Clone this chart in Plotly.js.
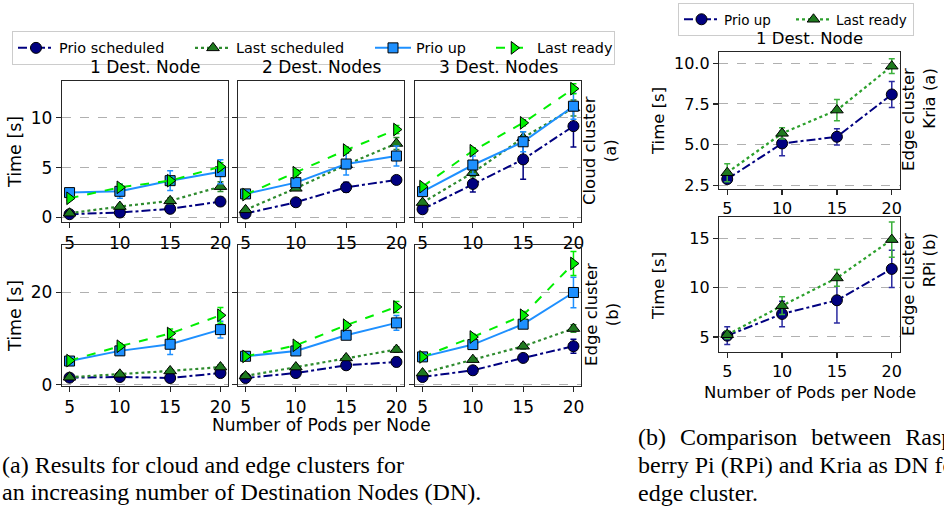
<!DOCTYPE html>
<html>
<head>
<meta charset="utf-8">
<script src="https://cdn.plot.ly/plotly-3.0.1.min.js"></script>
<style>html,body{margin:0;padding:0;background:#fff;}#chart{width:944px;height:508px;}</style>
</head>
<body>
<div id="chart"></div>
<script>
// ---------- data ----------
const pods = [5, 10, 15, 20];
const destNodeTitles = ['1 Dest. Node', '2 Dest. Nodes', '3 Dest. Nodes'];
const seriesNames = ['Prio scheduled', 'Last scheduled', 'Prio up', 'Last ready'];

// Cloud cluster (a): one row per number of destination nodes (1, 2, 3)
const cloudPrioScheduled = [[0.33, 0.5, 0.87, 1.6], [0.4, 1.53, 3.03, 3.77], [0.83, 3.37, 5.83, 9.17]];
const cloudLastScheduled = [[0.43, 1.1, 1.67, 3.1], [0.77, 2.93, 5.3, 7.43], [1.5, 4.5, 8.0, 11.0]];
const cloudPrioUp        = [[2.5, 2.63, 3.7, 4.6], [2.37, 3.5, 5.37, 6.17], [2.6, 5.27, 7.6, 11.17]];
const cloudLastReady     = [[1.93, 3.03, 3.7, 5.1], [2.3, 4.5, 6.77, 8.83], [3.1, 6.7, 9.5, 12.93]];
const cloudPrioScheduledErr = [[0.1, 0.15, 0.2, 0.4], [0.1, 0.2, 0.5, 0.3], [0.2, 0.8, 2.0, 2.1]];
const cloudLastScheduledErr = [[0.1, 0.2, 0.3, 0.5], [0.1, 0.2, 0.4, 0.6], [0.2, 0.4, 0.6, 0.8]];
const cloudPrioUpErr        = [[0.2, 0.7, 1.0, 1.2], [0.2, 0.5, 1.1, 1.0], [0.3, 0.9, 1.0, 1.3]];
const cloudLastReadyErr     = [[0.2, 0.3, 0.3, 0.4], [0.2, 0.3, 0.3, 0.4], [0.2, 0.3, 0.3, 0.5]];

// Edge cluster (b)
const edgePrioScheduled = [[1.5, 1.65, 1.43, 2.5], [1.43, 2.5, 4.18, 4.9], [1.65, 3.1, 5.77, 8.3]];
const edgeLastScheduled = [[1.6, 2.23, 2.95, 3.8], [1.87, 3.8, 5.77, 7.58], [2.5, 5.4, 8.3, 12.13]];
const edgePrioUp        = [[5.1, 7.3, 8.73, 11.9], [6.13, 7.28, 10.68, 13.35], [6.0, 8.66, 13.07, 19.93]];
const edgeLastReady     = [[5.2, 8.3, 11.05, 15.0], [6.1, 8.5, 12.85, 16.8], [6.0, 10.3, 15.0, 26.2]];
const edgePrioScheduledErr = [[0.2, 0.3, 0.4, 0.5], [0.2, 0.4, 0.5, 1.0], [0.2, 0.4, 0.6, 1.5]];
const edgeLastScheduledErr = [[0.2, 0.3, 0.4, 0.5], [0.2, 0.4, 0.5, 0.6], [0.2, 0.4, 0.6, 0.8]];
const edgePrioUpErr        = [[0.4, 0.9, 2.2, 1.8], [0.3, 0.6, 0.8, 1.6], [0.3, 0.6, 0.8, 3.3]];
const edgeLastReadyErr     = [[0.3, 0.6, 1.0, 1.7], [0.3, 0.6, 0.6, 1.2], [0.3, 0.6, 0.8, 2.6]];

// Right figure: Kria vs RPi, 1 destination node
const kriaPrioUp = [2.88, 5.07, 5.48, 8.08];
const kriaLastReady = [3.27, 5.69, 7.12, 9.82];
const kriaPrioUpErr = [0.2, 0.75, 0.5, 0.8];
const kriaLastReadyErr = [0.55, 0.35, 0.65, 0.45];
const rpiPrioUp = [5.13, 7.34, 8.73, 11.92];
const rpiLastReady = [5.23, 8.18, 11.0, 14.9];
const rpiPrioUpErr = [0.9, 1.3, 2.3, 1.9];
const rpiLastReadyErr = [0.4, 0.9, 0.85, 1.8];

// ---------- styles ----------
const W = 944, H = 508;
const px = v => v / W;
const py = v => 1 - v / H;
const FONT = 'DejaVu Sans';

const styles = {
  'Prio scheduled': {line: {color: '#000080', dash: 'dashdot', width: 2}, marker: {symbol: 'circle', size: 11, color: '#000080', line: {color: '#000000', width: 1}}, err: '#000080', lw: 126},
  'Last scheduled': {line: {color: '#2e8b2e', dash: 'dot', width: 2.2}, marker: {symbol: 'triangle-up', size: 11, color: '#1f7a1f', line: {color: '#000000', width: 1}}, err: '#2e8b2e', lw: 129},
  'Prio up':        {line: {color: '#1e90ff', dash: 'solid', width: 2}, marker: {symbol: 'square', size: 10, color: '#1e90ff', line: {color: '#000000', width: 1}}, err: '#1e90ff', lw: 70},
  'Last ready':     {line: {color: '#00ee00', dash: 'dash', width: 2}, marker: {symbol: 'triangle-right', size: 11, color: '#00ee00', line: {color: '#000000', width: 1}}, err: '#00ee00', lw: 72}
};

const traces = [];
function addTrace(name, y, err, axN, showLegend, legendId, style) {
  traces.push({
    type: 'scatter', mode: 'lines+markers', name: name,
    x: pods, y: y,
    xaxis: 'x' + (axN === 1 ? '' : axN), yaxis: 'y' + (axN === 1 ? '' : axN),
    line: style.line, marker: style.marker,
    error_y: {type: 'data', array: err, visible: true, color: style.err, thickness: 1.5, width: 3},
    showlegend: showLegend, legend: legendId, legendwidth: style.lw,
    hoverinfo: 'x+y+name'
  });
}

const cloudData = [cloudPrioScheduled, cloudLastScheduled, cloudPrioUp, cloudLastReady];
const cloudErr = [cloudPrioScheduledErr, cloudLastScheduledErr, cloudPrioUpErr, cloudLastReadyErr];
const edgeData = [edgePrioScheduled, edgeLastScheduled, edgePrioUp, edgeLastReady];
const edgeErr = [edgePrioScheduledErr, edgeLastScheduledErr, edgePrioUpErr, edgeLastReadyErr];

for (let c = 0; c < 3; c++) {
  seriesNames.forEach((s, i) => {
    addTrace(s, cloudData[i][c], cloudErr[i][c], 1 + c, c === 0, 'legend', styles[s]);
    addTrace(s, edgeData[i][c], edgeErr[i][c], 4 + c, false, 'legend', styles[s]);
  });
}
// right figure
const rPU = {line: {color: '#000080', dash: 'dashdot', width: 2}, marker: {symbol: 'circle', size: 11, color: '#000080', line: {color: '#000000', width: 1}}, err: '#2a2aa0', lw: 62};
const rLR = {line: {color: '#2ca02c', dash: 'dot', width: 2.2}, marker: {symbol: 'triangle-up', size: 11, color: '#1f7a1f', line: {color: '#000000', width: 1}}, err: '#3cb03c', lw: 72};
addTrace('Prio up', kriaPrioUp, kriaPrioUpErr, 7, true, 'legend2', rPU);
addTrace('Last ready', kriaLastReady, kriaLastReadyErr, 7, true, 'legend2', rLR);
addTrace('Prio up', rpiPrioUp, rpiPrioUpErr, 8, false, 'legend2', rPU);
addTrace('Last ready', rpiLastReady, rpiLastReadyErr, 8, false, 'legend2', rLR);

// ---------- layout ----------
const axLine = {showline: true, mirror: true, linecolor: '#262626', linewidth: 1.2, ticks: 'outside', ticklen: 5, tickwidth: 1.2, tickcolor: '#262626', zeroline: false};
const colX = [[62, 228], [238, 404], [415, 581]];
const rowY = [[81, 222], [245, 386]];

const layout = {
  width: W, height: H, margin: {l: 0, r: 0, t: 0, b: 0},
  paper_bgcolor: '#ffffff', plot_bgcolor: '#ffffff',
  font: {family: FONT, color: '#000000'},
  showlegend: true,
  legend: {orientation: 'h', x: px(12), y: py(31), xanchor: 'left', yanchor: 'top', bgcolor: '#ffffff', bordercolor: '#cccccc', borderwidth: 1, font: {family: FONT, size: 14.4}, itemwidth: 36, tracegroupgap: 0},
  legend2: {orientation: 'h', x: px(678), y: py(3), xanchor: 'left', yanchor: 'top', bgcolor: '#ffffff', bordercolor: '#cccccc', borderwidth: 1, font: {family: FONT, size: 13.5}, itemwidth: 35, tracegroupgap: 0},
  annotations: []
};

const yTickSets = [[0, 5, 10], [0, 20]];
const yRanges = [[-0.45, 13.7], [-0.3, 30.2]];
for (let r = 0; r < 2; r++) {
  for (let c = 0; c < 3; c++) {
    const n = 1 + r * 3 + c;
    const suf = n === 1 ? '' : n;
    layout['xaxis' + suf] = Object.assign({}, axLine, {
      domain: [px(colX[c][0]), px(colX[c][1])], anchor: 'y' + suf,
      range: [4.25, 20.75], tickvals: pods, showgrid: false,
      tickfont: {family: FONT, size: 17, color: '#000'}
    });
    layout['yaxis' + suf] = Object.assign({}, axLine, {
      domain: [py(rowY[r][1]), py(rowY[r][0])], anchor: 'x' + suf,
      range: yRanges[r], tickvals: yTickSets[r], showticklabels: c === 0,
      showgrid: true, gridcolor: '#b0b0b0', griddash: 'dash', gridwidth: 1,
      tickfont: {family: FONT, size: 17, color: '#000'}
    });
  }
}
// right figure axes
layout.xaxis7 = Object.assign({}, axLine, {domain: [px(719), px(900)], anchor: 'y7', range: [4.25, 20.75], tickvals: pods, showgrid: false, tickfont: {family: FONT, size: 16, color: '#000'}});
layout.yaxis7 = Object.assign({}, axLine, {domain: [py(189), py(52)], anchor: 'x7', range: [2.27, 10.69], tickvals: [2.5, 5, 7.5, 10], ticktext: ['2.5', '5.0', '7.5', '10.0'], showgrid: true, gridcolor: '#b0b0b0', griddash: 'dash', gridwidth: 1, tickfont: {family: FONT, size: 16, color: '#000'}});
layout.xaxis8 = Object.assign({}, axLine, {domain: [px(719), px(900)], anchor: 'y8', range: [4.25, 20.75], tickvals: pods, showgrid: false, tickfont: {family: FONT, size: 16, color: '#000'}});
layout.yaxis8 = Object.assign({}, axLine, {domain: [py(352), py(217)], anchor: 'x8', range: [3.47, 17.2], tickvals: [5, 10, 15], showgrid: true, gridcolor: '#b0b0b0', griddash: 'dash', gridwidth: 1, tickfont: {family: FONT, size: 16, color: '#000'}});

function ann(text, x, y, opts) {
  layout.annotations.push(Object.assign({text: text, x: px(x), y: py(y), xref: 'paper', yref: 'paper', showarrow: false, xanchor: 'center', yanchor: 'middle', font: {family: FONT, size: 17, color: '#000'}}, opts || {}));
}
// panel titles
destNodeTitles.forEach((t, c) => ann(t, (colX[c][0] + colX[c][1]) / 2, 67));
ann('1 Dest. Node', 809.5, 39, {font: {family: FONT, size: 16.5, color: '#000'}});
// axis titles
ann('Time [s]', 15, 152, {textangle: -90, font: {family: FONT, size: 17.5, color: '#000'}});
ann('Time [s]', 15, 316, {textangle: -90, font: {family: FONT, size: 17.5, color: '#000'}});
ann('Number of Pods per Node', 321, 425);
ann('Time [s]', 658, 121, {textangle: -90, font: {family: FONT, size: 16.5, color: '#000'}});
ann('Time [s]', 658, 286, {textangle: -90, font: {family: FONT, size: 16.5, color: '#000'}});
ann('Number of Pods per Node', 809.5, 392, {font: {family: FONT, size: 16.5, color: '#000'}});
// row labels
ann('Cloud cluster<br>(a)', 600, 151, {textangle: -90, font: {family: FONT, size: 16.5, color: '#000'}});
ann('Edge cluster<br>(b)', 602, 315, {textangle: -90, font: {family: FONT, size: 16.5, color: '#000'}});
ann('Edge cluster<br>Kria (a)', 919, 120, {textangle: -90, align: 'right', font: {family: FONT, size: 16.5, color: '#000'}});
ann('Edge cluster<br>RPi (b)', 919, 285, {textangle: -90, align: 'right', font: {family: FONT, size: 16.5, color: '#000'}});
// captions
const CAP = {family: 'Liberation Serif', size: 24, color: '#000'};
ann('(a) Results for cloud and edge clusters for', 0, 465, {xanchor: 'left', font: CAP});
ann('an increasing number of Destination Nodes (DN).', 0, 492, {xanchor: 'left', font: CAP});
ann('(b)\u00a0\u200a Comparison\u00a0\u200a between\u00a0\u200a Rasp-', 636, 437, {xanchor: 'left', font: CAP});
ann('berry Pi (RPi) and Kria as DN for', 636, 465, {xanchor: 'left', font: CAP});
ann('edge cluster.', 636, 493, {xanchor: 'left', font: CAP});

Plotly.newPlot('chart', traces, layout, {displayModeBar: false, staticPlot: true});
</script>
</body>
</html>
